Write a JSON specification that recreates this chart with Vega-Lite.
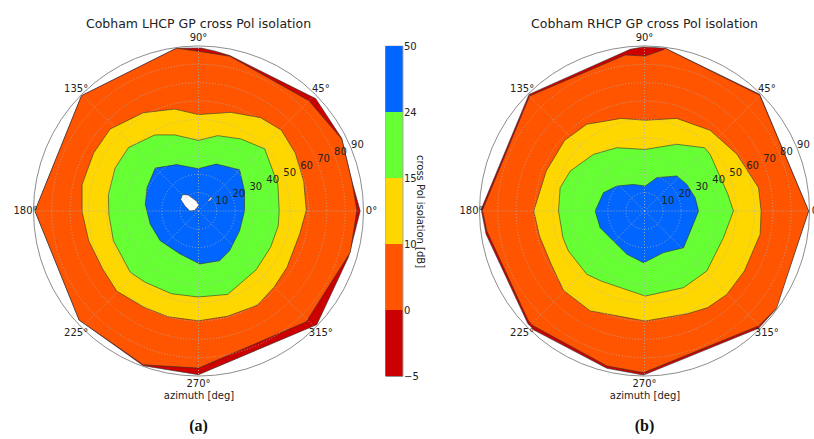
{
"$schema": "https://vega.github.io/schema/vega-lite/v6.json",
"padding": {"left": 12.5, "top": 17, "right": 0, "bottom": 0},
"bounds": "full",
"spacing": 33,
"config": {"font": "DejaVu Sans", "view": {"stroke": null},
  "title": {"fontSize": 12.5, "fontWeight": "normal", "color": "#222", "offset": 3, "baseline": "alphabetic"}},
"resolve": {"scale": {"x": "independent", "y": "independent", "fill": "independent", "color": "independent", "size": "independent"}},
"datasets": {
 "polyA": [
  {"poly":"r","lvl":-5,"i":0,"x":88.2,"y":0},{"poly":"r","lvl":-5,"i":1,"x":84.1,"y":-16.2},{"poly":"r","lvl":-5,"i":2,"x":81.9,"y":-24.9},{"poly":"r","lvl":-5,"i":3,"x":64.5,"y":-62},{"poly":"r","lvl":-5,"i":4,"x":0,"y":-89.3},{"poly":"r","lvl":-5,"i":5,"x":-30.1,"y":-84.4},{"poly":"r","lvl":-5,"i":6,"x":-65.1,"y":-59.5},{"poly":"r","lvl":-5,"i":7,"x":-89.2,"y":0},{"poly":"r","lvl":-5,"i":8,"x":-63.8,"y":62.9},{"poly":"r","lvl":-5,"i":9,"x":-12,"y":88.8},{"poly":"r","lvl":-5,"i":10,"x":1.4,"y":88.9},{"poly":"r","lvl":-5,"i":11,"x":8.7,"y":87.3},{"poly":"r","lvl":-5,"i":12,"x":17.1,"y":84.8},{"poly":"r","lvl":-5,"i":13,"x":63.9,"y":61.3},{"poly":"r","lvl":-5,"i":14,"x":78.1,"y":39.7},{"poly":"r","lvl":-5,"i":15,"x":83.7,"y":16.2},
  {"poly":"o","lvl":0,"i":0,"x":86.4,"y":0.4},{"poly":"o","lvl":0,"i":1,"x":82.8,"y":-22.5},{"poly":"o","lvl":0,"i":2,"x":58.8,"y":-60.4},{"poly":"o","lvl":0,"i":3,"x":0,"y":-85.7},{"poly":"o","lvl":0,"i":4,"x":-30.1,"y":-83.9},{"poly":"o","lvl":0,"i":5,"x":-65.1,"y":-59.5},{"poly":"o","lvl":0,"i":6,"x":-89.2,"y":0},{"poly":"o","lvl":0,"i":7,"x":-63.8,"y":62.9},{"poly":"o","lvl":0,"i":8,"x":-12,"y":88.8},{"poly":"o","lvl":0,"i":9,"x":1.4,"y":86.9},{"poly":"o","lvl":0,"i":10,"x":17.1,"y":84.4},{"poly":"o","lvl":0,"i":11,"x":60.2,"y":60.2},{"poly":"o","lvl":0,"i":12,"x":78.1,"y":39.3},{"poly":"o","lvl":0,"i":13,"x":83.7,"y":15.9},
  {"poly":"y","lvl":10,"i":0,"x":58.8,"y":0.4},{"poly":"y","lvl":10,"i":1,"x":57.4,"y":16.2},{"poly":"y","lvl":10,"i":2,"x":52.8,"y":31.6},{"poly":"y","lvl":10,"i":3,"x":45.1,"y":44.2},{"poly":"y","lvl":10,"i":4,"x":33.9,"y":50.9},{"poly":"y","lvl":10,"i":5,"x":17.7,"y":53.8},{"poly":"y","lvl":10,"i":6,"x":0,"y":52.6},{"poly":"y","lvl":10,"i":7,"x":-13,"y":55.6},{"poly":"y","lvl":10,"i":8,"x":-30.1,"y":53.6},{"poly":"y","lvl":10,"i":9,"x":-48.2,"y":44.7},{"poly":"y","lvl":10,"i":10,"x":-57.2,"y":31.6},{"poly":"y","lvl":10,"i":11,"x":-63.5,"y":14.4},{"poly":"y","lvl":10,"i":12,"x":-63.5,"y":-0.4},{"poly":"y","lvl":10,"i":13,"x":-59.9,"y":-16.2},{"poly":"y","lvl":10,"i":14,"x":-52.3,"y":-31.6},{"poly":"y","lvl":10,"i":15,"x":-44.6,"y":-43.7},{"poly":"y","lvl":10,"i":16,"x":-30.1,"y":-52.3},{"poly":"y","lvl":10,"i":17,"x":-16.6,"y":-57.7},{"poly":"y","lvl":10,"i":18,"x":0,"y":-59.9},{"poly":"y","lvl":10,"i":19,"x":15.9,"y":-57.4},{"poly":"y","lvl":10,"i":20,"x":32.1,"y":-51.4},{"poly":"y","lvl":10,"i":21,"x":41.3,"y":-41.5},{"poly":"y","lvl":10,"i":22,"x":48.3,"y":-30.7},{"poly":"y","lvl":10,"i":23,"x":55.2,"y":-12.6},
  {"poly":"g","lvl":15,"i":0,"x":44,"y":0},{"poly":"g","lvl":15,"i":1,"x":43.3,"y":14.4},{"poly":"g","lvl":15,"i":2,"x":36.1,"y":33.9},{"poly":"g","lvl":15,"i":3,"x":23.1,"y":39.3},{"poly":"g","lvl":15,"i":4,"x":10.5,"y":41.1},{"poly":"g","lvl":15,"i":5,"x":0,"y":38.5},{"poly":"g","lvl":15,"i":6,"x":-13,"y":41.5},{"poly":"g","lvl":15,"i":7,"x":-23.8,"y":41.5},{"poly":"g","lvl":15,"i":8,"x":-38.2,"y":34.6},{"poly":"g","lvl":15,"i":9,"x":-45.5,"y":23.4},{"poly":"g","lvl":15,"i":10,"x":-49.1,"y":9},{"poly":"g","lvl":15,"i":11,"x":-48.9,"y":-1.8},{"poly":"g","lvl":15,"i":12,"x":-46.4,"y":-16.2},{"poly":"g","lvl":15,"i":13,"x":-37.2,"y":-33.4},{"poly":"g","lvl":15,"i":14,"x":-29.2,"y":-38.8},{"poly":"g","lvl":15,"i":15,"x":-14.8,"y":-45.1},{"poly":"g","lvl":15,"i":16,"x":-0.2,"y":-46.9},{"poly":"g","lvl":15,"i":17,"x":15.9,"y":-45.5},{"poly":"g","lvl":15,"i":18,"x":31.4,"y":-32.1},{"poly":"g","lvl":15,"i":19,"x":39.3,"y":-19.8},{"poly":"g","lvl":15,"i":20,"x":43.5,"y":-8.1},
  {"poly":"b","lvl":24,"i":0,"x":-23.6,"y":23.4},{"poly":"b","lvl":24,"i":1,"x":-11.9,"y":25.3},{"poly":"b","lvl":24,"i":2,"x":-0.2,"y":23.1},{"poly":"b","lvl":24,"i":3,"x":9.7,"y":25.6},{"poly":"b","lvl":24,"i":4,"x":22.4,"y":22.5},{"poly":"b","lvl":24,"i":5,"x":25.1,"y":10.8},{"poly":"b","lvl":24,"i":6,"x":25.1,"y":0},{"poly":"b","lvl":24,"i":7,"x":22.4,"y":-10.8},{"poly":"b","lvl":24,"i":8,"x":17,"y":-21.6},{"poly":"b","lvl":24,"i":9,"x":11.5,"y":-27.1},{"poly":"b","lvl":24,"i":10,"x":0.7,"y":-28.9},{"poly":"b","lvl":24,"i":11,"x":-10.1,"y":-23.4},{"poly":"b","lvl":24,"i":12,"x":-20.9,"y":-16.2},{"poly":"b","lvl":24,"i":13,"x":-26.3,"y":-7.2},{"poly":"b","lvl":24,"i":14,"x":-29,"y":3.6},{"poly":"b","lvl":24,"i":15,"x":-28.1,"y":12.6},
  {"poly":"h1","lvl":50,"i":0,"x":-8.7,"y":9},{"poly":"h1","lvl":50,"i":1,"x":-5.6,"y":8.7},{"poly":"h1","lvl":50,"i":2,"x":-1.1,"y":5.4},{"poly":"h1","lvl":50,"i":3,"x":0.2,"y":3.1},{"poly":"h1","lvl":50,"i":4,"x":-2,"y":0.4},{"poly":"h1","lvl":50,"i":5,"x":-4.7,"y":0},{"poly":"h1","lvl":50,"i":6,"x":-7.4,"y":2.7},{"poly":"h1","lvl":50,"i":7,"x":-9.7,"y":6.3},
  {"poly":"h2","lvl":50,"i":0,"x":4.9,"y":5.4},{"poly":"h2","lvl":50,"i":1,"x":6.7,"y":7.6},{"poly":"h2","lvl":50,"i":2,"x":7.6,"y":7.2},{"poly":"h2","lvl":50,"i":3,"x":6.1,"y":5.4}
 ],
 "polyB": [
  {"poly":"r","lvl":-5,"i":0,"x":89.5,"y":0},{"poly":"r","lvl":-5,"i":1,"x":71.4,"y":-53.9},{"poly":"r","lvl":-5,"i":2,"x":62.2,"y":-64},{"poly":"r","lvl":-5,"i":3,"x":-0.5,"y":-89.5},{"poly":"r","lvl":-5,"i":4,"x":-20.5,"y":-85.8},{"poly":"r","lvl":-5,"i":5,"x":-60,"y":-65.1},{"poly":"r","lvl":-5,"i":6,"x":-63.6,"y":-61.5},{"poly":"r","lvl":-5,"i":7,"x":-86.4,"y":-12.7},{"poly":"r","lvl":-5,"i":8,"x":-89.1,"y":0.9},{"poly":"r","lvl":-5,"i":9,"x":-63,"y":63.6},{"poly":"r","lvl":-5,"i":10,"x":-7.8,"y":88.2},{"poly":"r","lvl":-5,"i":11,"x":-0.5,"y":89.5},{"poly":"r","lvl":-5,"i":12,"x":11.2,"y":88.8},{"poly":"r","lvl":-5,"i":13,"x":62.8,"y":63.7},
  {"poly":"o","lvl":0,"i":0,"x":89.5,"y":0},{"poly":"o","lvl":0,"i":1,"x":72,"y":-53.2},{"poly":"o","lvl":0,"i":2,"x":62.2,"y":-62.7},{"poly":"o","lvl":0,"i":3,"x":-0.5,"y":-88.2},{"poly":"o","lvl":0,"i":4,"x":-20.5,"y":-84.5},{"poly":"o","lvl":0,"i":5,"x":-60.5,"y":-62.7},{"poly":"o","lvl":0,"i":6,"x":-63.3,"y":-60},{"poly":"o","lvl":0,"i":7,"x":-86,"y":-10.9},{"poly":"o","lvl":0,"i":8,"x":-88.4,"y":0.4},{"poly":"o","lvl":0,"i":9,"x":-62.7,"y":62.7},{"poly":"o","lvl":0,"i":10,"x":-10.5,"y":85.1},{"poly":"o","lvl":0,"i":11,"x":0.4,"y":84.5},{"poly":"o","lvl":0,"i":12,"x":10.4,"y":88},{"poly":"o","lvl":0,"i":13,"x":11.2,"y":88.8},{"poly":"o","lvl":0,"i":14,"x":62.8,"y":63.2},
  {"poly":"y","lvl":10,"i":0,"x":63.6,"y":0},{"poly":"y","lvl":10,"i":1,"x":62.2,"y":12.7},{"poly":"y","lvl":10,"i":2,"x":50.4,"y":31},{"poly":"y","lvl":10,"i":3,"x":35.8,"y":44},{"poly":"y","lvl":10,"i":4,"x":17.6,"y":50.5},{"poly":"y","lvl":10,"i":5,"x":0.4,"y":49.5},{"poly":"y","lvl":10,"i":6,"x":-12.7,"y":50.5},{"poly":"y","lvl":10,"i":7,"x":-31.5,"y":47.3},{"poly":"y","lvl":10,"i":8,"x":-43.6,"y":38.5},{"poly":"y","lvl":10,"i":9,"x":-53.6,"y":21.8},{"poly":"y","lvl":10,"i":10,"x":-60.4,"y":0},{"poly":"y","lvl":10,"i":11,"x":-57.3,"y":-13.6},{"poly":"y","lvl":10,"i":12,"x":-50.9,"y":-29.1},{"poly":"y","lvl":10,"i":13,"x":-44.2,"y":-43.3},{"poly":"y","lvl":10,"i":14,"x":-29.6,"y":-54.5},{"poly":"y","lvl":10,"i":15,"x":0.4,"y":-60},{"poly":"y","lvl":10,"i":16,"x":23.6,"y":-56},{"poly":"y","lvl":10,"i":17,"x":34.5,"y":-52.7},{"poly":"y","lvl":10,"i":18,"x":44.9,"y":-45.5},{"poly":"y","lvl":10,"i":19,"x":54.5,"y":-32.7},{"poly":"y","lvl":10,"i":20,"x":63.1,"y":-12.7},
  {"poly":"g","lvl":15,"i":0,"x":48.5,"y":0},{"poly":"g","lvl":15,"i":1,"x":45.5,"y":9.1},{"poly":"g","lvl":15,"i":2,"x":35.8,"y":30.9},{"poly":"g","lvl":15,"i":3,"x":32.7,"y":34.5},{"poly":"g","lvl":15,"i":4,"x":17.6,"y":36.4},{"poly":"g","lvl":15,"i":5,"x":0.4,"y":33.6},{"poly":"g","lvl":15,"i":6,"x":-15.1,"y":34.5},{"poly":"g","lvl":15,"i":7,"x":-27.8,"y":30.9},{"poly":"g","lvl":15,"i":8,"x":-40.5,"y":21.8},{"poly":"g","lvl":15,"i":9,"x":-46,"y":12.7},{"poly":"g","lvl":15,"i":10,"x":-46.9,"y":0},{"poly":"g","lvl":15,"i":11,"x":-44.5,"y":-14.5},{"poly":"g","lvl":15,"i":12,"x":-41.5,"y":-21.8},{"poly":"g","lvl":15,"i":13,"x":-31.5,"y":-34.5},{"poly":"g","lvl":15,"i":14,"x":-23.6,"y":-38.2},{"poly":"g","lvl":15,"i":15,"x":0.4,"y":-46.4},{"poly":"g","lvl":15,"i":16,"x":21.3,"y":-41.8},{"poly":"g","lvl":15,"i":17,"x":34,"y":-32.7},{"poly":"g","lvl":15,"i":18,"x":43.1,"y":-14.5},
  {"poly":"b","lvl":24,"i":0,"x":-26.9,"y":0},{"poly":"b","lvl":24,"i":1,"x":-22.4,"y":10},{"poly":"b","lvl":24,"i":2,"x":-15.1,"y":13.6},{"poly":"b","lvl":24,"i":3,"x":-6,"y":14.5},{"poly":"b","lvl":24,"i":4,"x":0.4,"y":13.6},{"poly":"b","lvl":24,"i":5,"x":6.7,"y":18.2},{"poly":"b","lvl":24,"i":6,"x":17.6,"y":19.1},{"poly":"b","lvl":24,"i":7,"x":23.1,"y":14.5},{"poly":"b","lvl":24,"i":8,"x":27.6,"y":7.3},{"poly":"b","lvl":24,"i":9,"x":29.5,"y":0},{"poly":"b","lvl":24,"i":10,"x":25.8,"y":-9.1},{"poly":"b","lvl":24,"i":11,"x":21.3,"y":-20},{"poly":"b","lvl":24,"i":12,"x":10.4,"y":-22.7},{"poly":"b","lvl":24,"i":13,"x":-0.5,"y":-28.2},{"poly":"b","lvl":24,"i":14,"x":-9.6,"y":-23.6},{"poly":"b","lvl":24,"i":15,"x":-16.9,"y":-16.4},{"poly":"b","lvl":24,"i":16,"x":-24.2,"y":-9.1}
 ],
 "rings": [{"x":0,"y":0,"r":10},{"x":0,"y":0,"r":20},{"x":0,"y":0,"r":30},{"x":0,"y":0,"r":40},{"x":0,"y":0,"r":50},{"x":0,"y":0,"r":60},{"x":0,"y":0,"r":70},{"x":0,"y":0,"r":80}],
 "outer": [{"x":0,"y":0,"r":90}],
 "spokes": [{"x":0,"y":0,"ex":90,"ey":0},{"x":0,"y":0,"ex":63.64,"ey":63.64},{"x":0,"y":0,"ex":0,"ey":90},{"x":0,"y":0,"ex":-63.64,"ey":63.64},{"x":0,"y":0,"ex":-90,"ey":0},{"x":0,"y":0,"ex":-63.64,"ey":-63.64},{"x":0,"y":0,"ex":0,"ey":-90},{"x":0,"y":0,"ex":63.64,"ey":-63.64}],
 "angles": [{"az":0,"t":"0°"},{"az":45,"t":"45°"},{"az":90,"t":"90°"},{"az":135,"t":"135°"},{"az":180,"t":"180°"},{"az":225,"t":"225°"},{"az":270,"t":"270°"},{"az":315,"t":"315°"}],
 "rlabels": [{"r":10,"t":"10"},{"r":20,"t":"20"},{"r":30,"t":"30"},{"r":40,"t":"40"},{"r":50,"t":"50"},{"r":60,"t":"60"},{"r":70,"t":"70"},{"r":80,"t":"80"},{"r":90,"t":"90"}],
 "bands": [{"lo":-5,"hi":0},{"lo":0,"hi":10},{"lo":10,"hi":15},{"lo":15,"hi":24},{"lo":24,"hi":50}]
},
"hconcat": [
 {"bounds": "flush", "spacing": 22,
  "resolve": {"scale": {"x": "independent", "y": "independent", "fill": "independent", "color": "independent", "size": "independent"}},
  "hconcat": [
  {"width": 330, "height": 330,
   "title": {"text": "Cobham LHCP GP cross Pol isolation"},
   "layer": [
    {"data": {"name": "polyA"}, "transform": [{"filter": "datum.lvl == -5"}], "mark": {"type": "line", "interpolate": "linear-closed", "stroke": "#333", "strokeWidth": 0.6},
     "encoding": {"x": {"field": "x", "type": "quantitative", "scale": {"domain": [-90, 90], "nice": false, "zero": false}, "axis": {"title": "azimuth [deg]", "labels": false, "ticks": false, "domain": false, "grid": false, "titleFontSize": 10, "titleFontWeight": "normal", "titleColor": "#222", "titlePadding": 14}},
      "y": {"field": "y", "type": "quantitative", "scale": {"domain": [-90, 90], "nice": false, "zero": false}, "axis": null},
      "detail": {"field": "poly"}, "order": {"field": "i", "type": "quantitative"},
      "fill": {"field": "lvl", "type": "quantitative", "scale": {"type": "threshold", "domain": [0, 10, 15, 24, 50], "range": ["#cc0000", "#ff5500", "#ffd700", "#66ff33", "#0066ff", "#ffffff"]}, "legend": null}}},
    {"data": {"name": "polyA"}, "transform": [{"filter": "datum.lvl == 0"}], "mark": {"type": "line", "interpolate": "linear-closed", "stroke": "#333", "strokeWidth": 0.6},
     "encoding": {"x": {"field": "x", "type": "quantitative", "scale": {"domain": [-90, 90], "nice": false, "zero": false}},
      "y": {"field": "y", "type": "quantitative", "scale": {"domain": [-90, 90], "nice": false, "zero": false}, "axis": null},
      "detail": {"field": "poly"}, "order": {"field": "i", "type": "quantitative"},
      "fill": {"field": "lvl", "type": "quantitative", "scale": {"type": "threshold", "domain": [0, 10, 15, 24, 50], "range": ["#cc0000", "#ff5500", "#ffd700", "#66ff33", "#0066ff", "#ffffff"]}, "legend": null}}},
    {"data": {"name": "polyA"}, "transform": [{"filter": "datum.lvl == 10"}], "mark": {"type": "line", "interpolate": "linear-closed", "stroke": "#333", "strokeWidth": 0.6},
     "encoding": {"x": {"field": "x", "type": "quantitative", "scale": {"domain": [-90, 90], "nice": false, "zero": false}},
      "y": {"field": "y", "type": "quantitative", "scale": {"domain": [-90, 90], "nice": false, "zero": false}, "axis": null},
      "detail": {"field": "poly"}, "order": {"field": "i", "type": "quantitative"},
      "fill": {"field": "lvl", "type": "quantitative", "scale": {"type": "threshold", "domain": [0, 10, 15, 24, 50], "range": ["#cc0000", "#ff5500", "#ffd700", "#66ff33", "#0066ff", "#ffffff"]}, "legend": null}}},
    {"data": {"name": "polyA"}, "transform": [{"filter": "datum.lvl == 15"}], "mark": {"type": "line", "interpolate": "linear-closed", "stroke": "#333", "strokeWidth": 0.6},
     "encoding": {"x": {"field": "x", "type": "quantitative", "scale": {"domain": [-90, 90], "nice": false, "zero": false}},
      "y": {"field": "y", "type": "quantitative", "scale": {"domain": [-90, 90], "nice": false, "zero": false}, "axis": null},
      "detail": {"field": "poly"}, "order": {"field": "i", "type": "quantitative"},
      "fill": {"field": "lvl", "type": "quantitative", "scale": {"type": "threshold", "domain": [0, 10, 15, 24, 50], "range": ["#cc0000", "#ff5500", "#ffd700", "#66ff33", "#0066ff", "#ffffff"]}, "legend": null}}},
    {"data": {"name": "polyA"}, "transform": [{"filter": "datum.lvl == 24"}], "mark": {"type": "line", "interpolate": "linear-closed", "stroke": "#333", "strokeWidth": 0.6},
     "encoding": {"x": {"field": "x", "type": "quantitative", "scale": {"domain": [-90, 90], "nice": false, "zero": false}},
      "y": {"field": "y", "type": "quantitative", "scale": {"domain": [-90, 90], "nice": false, "zero": false}, "axis": null},
      "detail": {"field": "poly"}, "order": {"field": "i", "type": "quantitative"},
      "fill": {"field": "lvl", "type": "quantitative", "scale": {"type": "threshold", "domain": [0, 10, 15, 24, 50], "range": ["#cc0000", "#ff5500", "#ffd700", "#66ff33", "#0066ff", "#ffffff"]}, "legend": null}}},
    {"data": {"name": "polyA"}, "transform": [{"filter": "datum.lvl == 50"}], "mark": {"type": "line", "interpolate": "linear-closed", "stroke": "#333", "strokeWidth": 0.6},
     "encoding": {"x": {"field": "x", "type": "quantitative", "scale": {"domain": [-90, 90], "nice": false, "zero": false}},
      "y": {"field": "y", "type": "quantitative", "scale": {"domain": [-90, 90], "nice": false, "zero": false}, "axis": null},
      "detail": {"field": "poly"}, "order": {"field": "i", "type": "quantitative"},
      "fill": {"field": "lvl", "type": "quantitative", "scale": {"type": "threshold", "domain": [0, 10, 15, 24, 50], "range": ["#cc0000", "#ff5500", "#ffd700", "#66ff33", "#0066ff", "#ffffff"]}, "legend": null}}},
    {"data": {"name": "rings"}, "mark": {"type": "point", "shape": "circle", "filled": false, "stroke": "#b0b0b0", "strokeWidth": 0.8, "strokeDash": [1, 2], "opacity": 1},
     "encoding": {"x": {"field": "x", "type": "quantitative", "scale": {"domain": [-90, 90], "nice": false, "zero": false}},
      "y": {"field": "y", "type": "quantitative", "scale": {"domain": [-90, 90], "nice": false, "zero": false}, "axis": null},
      "size": {"field": "r", "type": "quantitative", "scale": {"type": "pow", "exponent": 2, "domain": [0, 90], "range": [0, 108900]}, "legend": null}}},
    {"data": {"name": "spokes"}, "mark": {"type": "rule", "stroke": "#b0b0b0", "strokeWidth": 0.8, "strokeDash": [1, 2]},
     "encoding": {"x": {"field": "x", "type": "quantitative", "scale": {"domain": [-90, 90], "nice": false, "zero": false}},
      "y": {"field": "y", "type": "quantitative", "scale": {"domain": [-90, 90], "nice": false, "zero": false}, "axis": null},
      "x2": {"field": "ex"}, "y2": {"field": "ey"}}},
    {"data": {"name": "outer"}, "mark": {"type": "point", "shape": "circle", "filled": false, "stroke": "#808080", "strokeWidth": 0.9, "opacity": 1},
     "encoding": {"x": {"field": "x", "type": "quantitative", "scale": {"domain": [-90, 90], "nice": false, "zero": false}},
      "y": {"field": "y", "type": "quantitative", "scale": {"domain": [-90, 90], "nice": false, "zero": false}, "axis": null},
      "size": {"field": "r", "type": "quantitative", "scale": {"type": "pow", "exponent": 2, "domain": [0, 90], "range": [0, 108900]}, "legend": null}}},
    {"data": {"name": "angles"}, "mark": {"type": "text", "fontSize": 10, "color": "#222"},
     "encoding": {"theta": {"field": "az", "type": "quantitative", "stack": null, "scale": {"domain": [0, 360], "range": [1.5707963, -4.712389]}},
      "radius": {"value": 173},
      "text": {"field": "t"}}},
    {"data": {"name": "rlabels"}, "mark": {"type": "text", "fontSize": 10, "color": "#222", "radiusOffset": 7},
     "encoding": {"theta": {"value": 1.1781},
      "radius": {"field": "r", "type": "quantitative", "stack": null, "scale": {"type": "linear", "domain": [0, 90], "range": [0, 165], "zero": true, "nice": false}},
      "text": {"field": "t"}}},
    {"data": {"values": [{"t": "(a)", "x": 0, "y": -117}]}, "mark": {"type": "text", "fontSize": 16, "font": "Liberation Serif", "fontWeight": "bold", "color": "#111"},
     "encoding": {"x": {"field": "x", "type": "quantitative", "scale": {"domain": [-90, 90], "nice": false, "zero": false}},
      "y": {"field": "y", "type": "quantitative", "scale": {"domain": [-90, 90], "nice": false, "zero": false}, "axis": null},
      "text": {"field": "t"}}}
   ]},
  {"width": 17, "height": 330,
   "view": {"stroke": "#555", "strokeWidth": 0.8},
   "data": {"name": "bands"},
   "mark": {"type": "rect"},
   "encoding": {
    "y": {"field": "lo", "type": "quantitative", "scale": {"domain": [-5, 0, 10, 15, 24, 50], "range": [330, 264, 198, 132, 66, 0], "nice": false, "zero": false},
     "axis": {"orient": "right", "values": [-5, 0, 10, 15, 24, 50], "title": "cross Pol isolation [dB]", "labelFontSize": 10, "titleFontSize": 10, "titleFontWeight": "normal", "ticks": false, "domain": false, "grid": false, "labelPadding": 1, "titlePadding": -4, "labelColor": "#222", "titleColor": "#222"}},
    "y2": {"field": "hi"},
    "color": {"field": "lo", "type": "quantitative", "scale": {"type": "threshold", "domain": [0, 10, 15, 24, 50], "range": ["#cc0000", "#ff5500", "#ffd700", "#66ff33", "#0066ff", "#ffffff"]}, "legend": null}}}
  ]},
 {"width": 330, "height": 330,
  "title": {"text": "Cobham RHCP GP cross Pol isolation"},
  "layer": [
    {"data": {"name": "polyB"}, "transform": [{"filter": "datum.lvl == -5"}], "mark": {"type": "line", "interpolate": "linear-closed", "stroke": "#333", "strokeWidth": 0.6},
     "encoding": {"x": {"field": "x", "type": "quantitative", "scale": {"domain": [-90, 90], "nice": false, "zero": false}, "axis": {"title": "azimuth [deg]", "labels": false, "ticks": false, "domain": false, "grid": false, "titleFontSize": 10, "titleFontWeight": "normal", "titleColor": "#222", "titlePadding": 14}},
      "y": {"field": "y", "type": "quantitative", "scale": {"domain": [-90, 90], "nice": false, "zero": false}, "axis": null},
      "detail": {"field": "poly"}, "order": {"field": "i", "type": "quantitative"},
      "fill": {"field": "lvl", "type": "quantitative", "scale": {"type": "threshold", "domain": [0, 10, 15, 24, 50], "range": ["#cc0000", "#ff5500", "#ffd700", "#66ff33", "#0066ff", "#ffffff"]}, "legend": null}}},
    {"data": {"name": "polyB"}, "transform": [{"filter": "datum.lvl == 0"}], "mark": {"type": "line", "interpolate": "linear-closed", "stroke": "#333", "strokeWidth": 0.6},
     "encoding": {"x": {"field": "x", "type": "quantitative", "scale": {"domain": [-90, 90], "nice": false, "zero": false}},
      "y": {"field": "y", "type": "quantitative", "scale": {"domain": [-90, 90], "nice": false, "zero": false}, "axis": null},
      "detail": {"field": "poly"}, "order": {"field": "i", "type": "quantitative"},
      "fill": {"field": "lvl", "type": "quantitative", "scale": {"type": "threshold", "domain": [0, 10, 15, 24, 50], "range": ["#cc0000", "#ff5500", "#ffd700", "#66ff33", "#0066ff", "#ffffff"]}, "legend": null}}},
    {"data": {"name": "polyB"}, "transform": [{"filter": "datum.lvl == 10"}], "mark": {"type": "line", "interpolate": "linear-closed", "stroke": "#333", "strokeWidth": 0.6},
     "encoding": {"x": {"field": "x", "type": "quantitative", "scale": {"domain": [-90, 90], "nice": false, "zero": false}},
      "y": {"field": "y", "type": "quantitative", "scale": {"domain": [-90, 90], "nice": false, "zero": false}, "axis": null},
      "detail": {"field": "poly"}, "order": {"field": "i", "type": "quantitative"},
      "fill": {"field": "lvl", "type": "quantitative", "scale": {"type": "threshold", "domain": [0, 10, 15, 24, 50], "range": ["#cc0000", "#ff5500", "#ffd700", "#66ff33", "#0066ff", "#ffffff"]}, "legend": null}}},
    {"data": {"name": "polyB"}, "transform": [{"filter": "datum.lvl == 15"}], "mark": {"type": "line", "interpolate": "linear-closed", "stroke": "#333", "strokeWidth": 0.6},
     "encoding": {"x": {"field": "x", "type": "quantitative", "scale": {"domain": [-90, 90], "nice": false, "zero": false}},
      "y": {"field": "y", "type": "quantitative", "scale": {"domain": [-90, 90], "nice": false, "zero": false}, "axis": null},
      "detail": {"field": "poly"}, "order": {"field": "i", "type": "quantitative"},
      "fill": {"field": "lvl", "type": "quantitative", "scale": {"type": "threshold", "domain": [0, 10, 15, 24, 50], "range": ["#cc0000", "#ff5500", "#ffd700", "#66ff33", "#0066ff", "#ffffff"]}, "legend": null}}},
    {"data": {"name": "polyB"}, "transform": [{"filter": "datum.lvl == 24"}], "mark": {"type": "line", "interpolate": "linear-closed", "stroke": "#333", "strokeWidth": 0.6},
     "encoding": {"x": {"field": "x", "type": "quantitative", "scale": {"domain": [-90, 90], "nice": false, "zero": false}},
      "y": {"field": "y", "type": "quantitative", "scale": {"domain": [-90, 90], "nice": false, "zero": false}, "axis": null},
      "detail": {"field": "poly"}, "order": {"field": "i", "type": "quantitative"},
      "fill": {"field": "lvl", "type": "quantitative", "scale": {"type": "threshold", "domain": [0, 10, 15, 24, 50], "range": ["#cc0000", "#ff5500", "#ffd700", "#66ff33", "#0066ff", "#ffffff"]}, "legend": null}}},
    {"data": {"name": "rings"}, "mark": {"type": "point", "shape": "circle", "filled": false, "stroke": "#b0b0b0", "strokeWidth": 0.8, "strokeDash": [1, 2], "opacity": 1},
     "encoding": {"x": {"field": "x", "type": "quantitative", "scale": {"domain": [-90, 90], "nice": false, "zero": false}},
      "y": {"field": "y", "type": "quantitative", "scale": {"domain": [-90, 90], "nice": false, "zero": false}, "axis": null},
      "size": {"field": "r", "type": "quantitative", "scale": {"type": "pow", "exponent": 2, "domain": [0, 90], "range": [0, 108900]}, "legend": null}}},
    {"data": {"name": "spokes"}, "mark": {"type": "rule", "stroke": "#b0b0b0", "strokeWidth": 0.8, "strokeDash": [1, 2]},
     "encoding": {"x": {"field": "x", "type": "quantitative", "scale": {"domain": [-90, 90], "nice": false, "zero": false}},
      "y": {"field": "y", "type": "quantitative", "scale": {"domain": [-90, 90], "nice": false, "zero": false}, "axis": null},
      "x2": {"field": "ex"}, "y2": {"field": "ey"}}},
    {"data": {"name": "outer"}, "mark": {"type": "point", "shape": "circle", "filled": false, "stroke": "#808080", "strokeWidth": 0.9, "opacity": 1},
     "encoding": {"x": {"field": "x", "type": "quantitative", "scale": {"domain": [-90, 90], "nice": false, "zero": false}},
      "y": {"field": "y", "type": "quantitative", "scale": {"domain": [-90, 90], "nice": false, "zero": false}, "axis": null},
      "size": {"field": "r", "type": "quantitative", "scale": {"type": "pow", "exponent": 2, "domain": [0, 90], "range": [0, 108900]}, "legend": null}}},
    {"data": {"name": "angles"}, "mark": {"type": "text", "fontSize": 10, "color": "#222"},
     "encoding": {"theta": {"field": "az", "type": "quantitative", "stack": null, "scale": {"domain": [0, 360], "range": [1.5707963, -4.712389]}},
      "radius": {"value": 173},
      "text": {"field": "t"}}},
    {"data": {"name": "rlabels"}, "mark": {"type": "text", "fontSize": 10, "color": "#222", "radiusOffset": 7},
     "encoding": {"theta": {"value": 1.1781},
      "radius": {"field": "r", "type": "quantitative", "stack": null, "scale": {"type": "linear", "domain": [0, 90], "range": [0, 165], "zero": true, "nice": false}},
      "text": {"field": "t"}}},
    {"data": {"values": [{"t": "(b)", "x": 0, "y": -117}]}, "mark": {"type": "text", "fontSize": 16, "font": "Liberation Serif", "fontWeight": "bold", "color": "#111"},
     "encoding": {"x": {"field": "x", "type": "quantitative", "scale": {"domain": [-90, 90], "nice": false, "zero": false}},
      "y": {"field": "y", "type": "quantitative", "scale": {"domain": [-90, 90], "nice": false, "zero": false}, "axis": null},
      "text": {"field": "t"}}}
  ]}
]
}
